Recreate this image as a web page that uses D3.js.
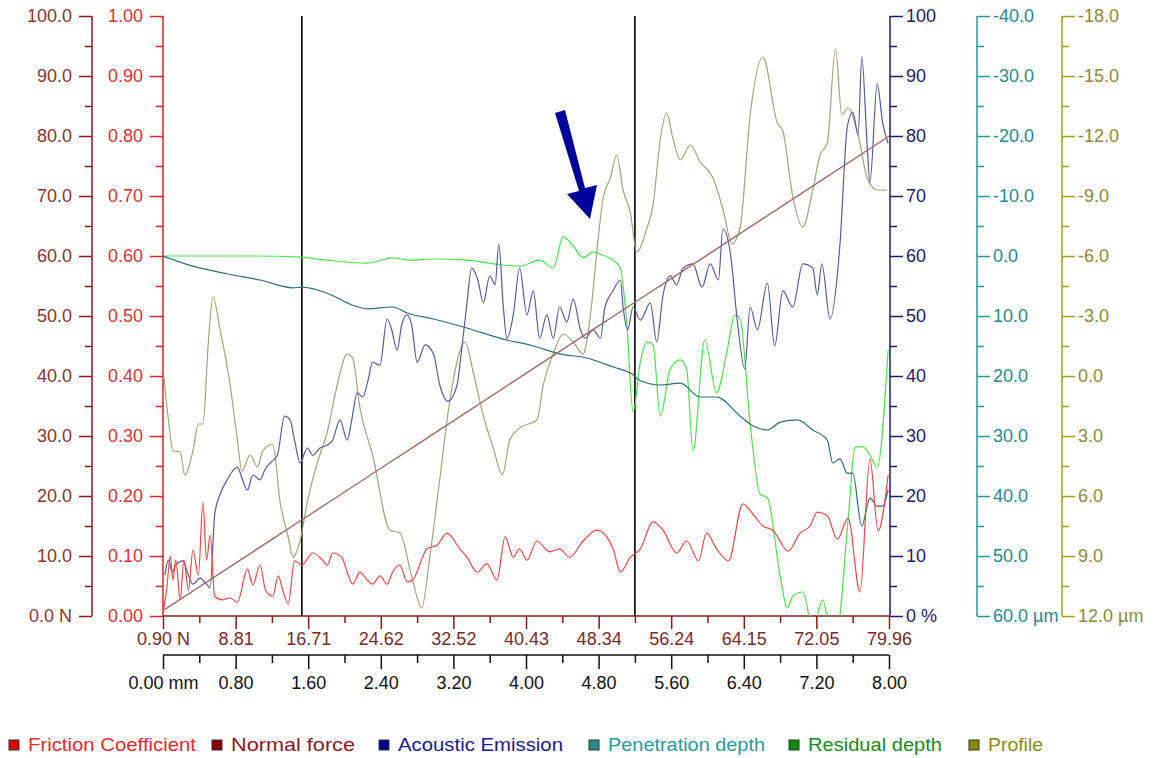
<!DOCTYPE html>
<html><head><meta charset="utf-8">
<script src="https://cdn.jsdelivr.net/npm/d3@7"></script>
<style>
body{margin:0;background:#fff;}
svg{display:block;font-family:"Liberation Sans",Arial,sans-serif;}
</style></head>
<body><svg id="c" width="1158" height="758"></svg>
<script>
// ---------- DATA (x in mm along the scratch) ----------
const mmTicks = [0,0.8,1.6,2.4,3.2,4.0,4.8,5.6,6.4,7.2,8.0];
const mmLabels = ["0.00 mm","0.80","1.60","2.40","3.20","4.00","4.80","5.60","6.40","7.20","8.00"];
const forceTicks = [0.90,8.81,16.71,24.62,32.52,40.43,48.34,56.24,64.15,72.05,79.96];
const forceLabels = ["0.90 N","8.81","16.71","24.62","32.52","40.43","48.34","56.24","64.15","72.05","79.96"];
const nTicks = [0,10,20,30,40,50,60,70,80,90,100];
const nLabels = ["0.0 N","10.0","20.0","30.0","40.0","50.0","60.0","70.0","80.0","90.0","100.0"];
const fTicks = [0,0.1,0.2,0.3,0.4,0.5,0.6,0.7,0.8,0.9,1.0];
const fLabels = ["0.00","0.10","0.20","0.30","0.40","0.50","0.60","0.70","0.80","0.90","1.00"];
const aeTicks = [0,10,20,30,40,50,60,70,80,90,100];
const aeLabels = ["0 %","10","20","30","40","50","60","70","80","90","100"];
const depthTicks = [-40,-30,-20,-10,0,10,20,30,40,50,60];
const depthLabels = ["-40.0","-30.0","-20.0","-10.0","0.0","10.0","20.0","30.0","40.0","50.0","60.0 µm"];
const profTicks = [-18,-15,-12,-9,-6,-3,0,3,6,9,12];
const profLabels = ["-18.0","-15.0","-12.0","-9.0","-6.0","-3.0","0.0","3.0","6.0","9.0","12.0 µm"];
const markerMM = [1.53, 5.20];
const legendNames = ["Friction Coefficient","Normal force","Acoustic Emission","Penetration depth","Residual depth","Profile"];

// Normal force (N) vs position (mm)
const normalForce = [[0,0.90],[0.8,8.81],[1.6,16.71],[2.4,24.62],[3.2,32.52],[4.0,40.43],[4.8,48.34],[5.6,56.24],[6.4,64.15],[7.2,72.05],[8.0,79.96]];

// Friction coefficient
const friction = [[0.00,0.005],[0.04,0.043],[0.08,0.10],[0.11,0.06],[0.14,0.093],[0.19,0.027],[0.23,0.093],[0.28,0.043],[0.33,0.11],[0.39,0.068],[0.44,0.19],[0.48,0.093],[0.52,0.135],[0.57,0.033],[0.65,0.027],[0.74,0.03],[0.82,0.023],[0.93,0.078],[0.99,0.052],[1.07,0.085],[1.13,0.043],[1.21,0.033],[1.27,0.067],[1.32,0.043],[1.38,0.02],[1.45,0.092],[1.53,0.085],[1.65,0.105],[1.76,0.093],[1.81,0.085],[1.87,0.105],[1.97,0.098],[2.03,0.073],[2.09,0.053],[2.17,0.073],[2.25,0.06],[2.31,0.053],[2.39,0.067],[2.47,0.053],[2.53,0.073],[2.61,0.085],[2.69,0.057],[2.75,0.06],[2.91,0.112],[3.02,0.118],[3.13,0.138],[3.27,0.112],[3.35,0.098],[3.46,0.073],[3.57,0.087],[3.68,0.06],[3.77,0.132],[3.86,0.098],[3.93,0.112],[4.01,0.093],[4.12,0.125],[4.26,0.107],[4.37,0.112],[4.48,0.098],[4.63,0.125],[4.78,0.143],[4.89,0.132],[4.96,0.112],[5.04,0.073],[5.15,0.098],[5.26,0.112],[5.40,0.157],[5.51,0.143],[5.66,0.105],[5.77,0.125],[5.90,0.092],[5.99,0.138],[6.10,0.112],[6.23,0.092],[6.39,0.187],[6.50,0.17],[6.61,0.15],[6.72,0.143],[6.89,0.108],[7.02,0.138],[7.13,0.15],[7.21,0.173],[7.32,0.167],[7.43,0.128],[7.55,0.163],[7.68,0.04],[7.79,0.262],[7.88,0.142],[7.99,0.235]];

// Acoustic emission (%)
const acoustic = [[0.02,6.8],[0.06,9.3],[0.10,7.3],[0.14,8.5],[0.22,9.2],[0.28,6.8],[0.33,5.3],[0.41,6.3],[0.48,5.3],[0.52,4.7],[0.57,17],[0.63,20.3],[0.71,22.8],[0.76,24],[0.82,24.8],[0.87,23],[0.93,21],[0.99,23.5],[1.07,22.7],[1.12,24.3],[1.18,25.5],[1.26,26.8],[1.34,33.3],[1.40,32.7],[1.45,29.3],[1.51,25.5],[1.59,28],[1.65,26.8],[1.73,28],[1.81,28.5],[1.87,29.3],[1.95,32.7],[2.03,29.3],[2.08,32.7],[2.14,37.2],[2.20,36.5],[2.26,39.3],[2.31,42.3],[2.39,41.8],[2.47,49.5],[2.52,47.7],[2.58,44.3],[2.63,48.5],[2.69,50.2],[2.74,48.5],[2.80,42.3],[2.89,45.2],[2.98,43.7],[3.05,38.5],[3.14,35.8],[3.24,38.5],[3.29,44.3],[3.35,52.2],[3.40,58],[3.47,56],[3.53,52.2],[3.60,56.7],[3.66,55.2],[3.70,62],[3.75,51.5],[3.79,46.3],[3.86,50.2],[3.93,58],[4.01,50.2],[4.08,54.2],[4.15,46.3],[4.23,50.2],[4.30,46.3],[4.37,51.5],[4.45,49],[4.52,52.8],[4.60,47.7],[4.65,46.3],[4.74,47.7],[4.82,46.3],[4.87,51.5],[4.96,54.2],[5.04,56],[5.07,51.5],[5.12,47.7],[5.18,51.5],[5.26,49.3],[5.37,52.2],[5.44,45.7],[5.51,53.5],[5.59,56.7],[5.66,55.2],[5.73,58],[5.84,58.7],[5.94,54.8],[6.03,58.7],[6.12,56],[6.17,64.5],[6.25,60.7],[6.33,49],[6.41,41.2],[6.47,51.5],[6.55,47.7],[6.66,55.5],[6.74,45],[6.83,54.2],[6.94,51.5],[7.05,58.7],[7.16,58],[7.21,53.5],[7.26,58.7],[7.35,49.5],[7.46,62],[7.54,81.5],[7.60,84],[7.66,80.2],[7.70,93.2],[7.76,78.2],[7.79,72.3],[7.87,88.7],[7.93,82.2],[7.99,78.8]];

// Penetration depth (µm)
const penetration = [[0,0],[0.33,1.7],[0.71,3.0],[1.07,4.0],[1.43,5.3],[1.53,5.2],[1.81,6.2],[2.09,8.2],[2.25,8.8],[2.53,8.5],[2.69,9.5],[2.98,10.5],[3.35,12],[3.71,13.7],[4.08,15],[4.37,16.3],[4.67,17],[4.96,18.5],[5.18,19.8],[5.26,20.8],[5.48,21.5],[5.70,21.2],[5.92,23.5],[6.10,23.5],[6.36,26.7],[6.50,28.3],[6.66,29],[6.80,27.7],[6.99,27.3],[7.16,29],[7.32,30.7],[7.38,34.5],[7.46,33.8],[7.54,36.2],[7.60,36.2],[7.70,45],[7.79,40.3],[7.87,41.7],[7.93,41.7],[7.99,39]];

// Residual depth (µm)
const residual = [[0,0],[0.96,0],[1.51,0.2],[1.81,0.7],[2.25,1.2],[2.53,0.3],[2.72,0.7],[2.98,0.5],[3.35,0.7],[3.64,1.3],[3.93,1.7],[4.15,0.7],[4.30,2],[4.41,-3.2],[4.52,-1.7],[4.63,0.3],[4.74,-0.7],[4.82,-0.3],[4.96,0.7],[5.04,2],[5.11,11.2],[5.18,26],[5.26,17.7],[5.33,14.3],[5.40,14.8],[5.48,26.7],[5.59,18.8],[5.70,17.3],[5.77,18.8],[5.84,32.5],[5.97,14],[6.10,22.8],[6.21,16.3],[6.30,9.8],[6.36,10.5],[6.47,28],[6.58,39.7],[6.66,40.3],[6.80,53.3],[6.88,58.7],[6.94,56.7],[7.05,56],[7.16,62],[7.27,57.3],[7.35,62],[7.43,62],[7.54,45.7],[7.63,31.8],[7.71,31.8],[7.79,33.2],[7.87,35.2],[7.99,15.7]];

// Profile (µm)
const profile = [[0.01,0.05],[0.06,2.2],[0.11,3.75],[0.19,3.8],[0.24,4.95],[0.33,3.75],[0.39,2.4],[0.44,2.4],[0.50,-1.7],[0.55,-3.95],[0.63,-2.3],[0.74,0.45],[0.82,3.2],[0.87,4.75],[0.96,3.95],[1.04,4.55],[1.10,3.75],[1.21,3.4],[1.29,6.3],[1.38,8.05],[1.43,9.05],[1.51,8.25],[1.59,6.3],[1.70,4.35],[1.81,2.8],[1.92,0.45],[2.03,-1.1],[2.09,-0.9],[2.17,1.6],[2.31,3.95],[2.50,7.7],[2.61,7.85],[2.75,10.2],[2.85,11.6],[2.94,9.05],[3.05,5.15],[3.16,1.25],[3.33,-1.7],[3.42,-0.15],[3.53,2.0],[3.64,3.6],[3.74,4.95],[3.82,3.2],[3.93,2.6],[4.12,2.2],[4.19,0.45],[4.30,-1.1],[4.41,-2.1],[4.52,-1.7],[4.63,-1.1],[4.71,-3.05],[4.78,-6.2],[4.85,-8.9],[4.93,-9.9],[5.00,-11.05],[5.07,-9.3],[5.15,-8.15],[5.22,-6.2],[5.33,-7.35],[5.40,-8.55],[5.48,-11.85],[5.55,-13.15],[5.62,-11.85],[5.70,-10.8],[5.81,-11.55],[5.92,-10.7],[6.06,-9.9],[6.17,-8.35],[6.27,-6.6],[6.36,-7.45],[6.47,-13.05],[6.61,-15.95],[6.77,-12.65],[6.83,-12.25],[6.94,-8.95],[7.05,-7.45],[7.16,-9.3],[7.24,-11.05],[7.32,-11.65],[7.41,-16.35],[7.48,-13.05],[7.55,-13.4],[7.66,-12.05],[7.76,-9.9],[7.87,-9.3],[7.98,-9.3]];

// ---------- DRAW ----------
const svg = d3.select("#c");
const L = 163, R = 889, T = 16, B = 616;
const x = d3.scaleLinear().domain([0,8]).range([L,R]);
const xN = d3.scaleLinear().domain([0.90,79.96]).range([L,R]);
const yN = d3.scaleLinear().domain([0,100]).range([B,T]);
const yF = d3.scaleLinear().domain([0,1]).range([B,T]);
const yAE = d3.scaleLinear().domain([0,100]).range([B,T]);
const yD = d3.scaleLinear().domain([-40,60]).range([T,B]);
const yP = d3.scaleLinear().domain([-18,12]).range([T,B]);

svg.append("defs").append("clipPath").attr("id","clip")
  .append("rect").attr("x",L).attr("y",T).attr("width",R-L).attr("height",B-T);

const FS = 18;
function mids(a){ const m=[]; for(let i=0;i<a.length-1;i++) m.push((a[i]+a[i+1])/2); return m; }

function vAxis(gen, scale, ticks, labels, xPos, lineColor, textColor, side){
  const g = svg.append("g").attr("transform",`translate(${xPos},0)`);
  g.append("g").call(gen(scale).tickValues(mids(ticks)).tickSize(7).tickFormat(""))
    .call(s=>{s.select(".domain").remove(); s.selectAll("line").attr("stroke",lineColor).attr("stroke-width",1.5);});
  const ax = g.append("g").call(gen(scale).tickValues(ticks).tickSize(13).tickPadding(side==="left"?7:3)
    .tickFormat((d,i)=>labels[i]));
  ax.select(".domain").attr("stroke",lineColor).attr("stroke-width",1.5).attr("d", `M0,${T}V${B}`);
  ax.selectAll("line").attr("stroke",lineColor).attr("stroke-width",1.5);
  ax.selectAll("text").attr("fill",textColor).style("font-size",FS+"px").style("font-family","Liberation Sans, Arial, sans-serif");
}
vAxis(d3.axisLeft, yN, nTicks, nLabels, 92, "#8b1a1a", "#8b3434", "left");
vAxis(d3.axisLeft, yF, fTicks, fLabels, L, "#cc2a2a", "#dd3333", "left");
vAxis(d3.axisRight, yAE, aeTicks, aeLabels, 890, "#1c1c6c", "#1c1c6c", "right");
vAxis(d3.axisRight, yD, depthTicks, depthLabels, 977, "#2a9595", "#2a8a8a", "right");
vAxis(d3.axisRight, yP, profTicks, profLabels, 1062, "#a0a025", "#8a8a3a", "right");

function hAxis(scale, ticks, labels, yPos, lineColor, textColor, majorLen, minorLen, pad){
  const g = svg.append("g").attr("transform",`translate(0,${yPos})`);
  g.append("g").call(d3.axisBottom(scale).tickValues(mids(ticks)).tickSize(minorLen).tickFormat(""))
    .call(s=>{s.select(".domain").remove(); s.selectAll("line").attr("stroke",lineColor).attr("stroke-width",1.5);});
  const ax = g.append("g").call(d3.axisBottom(scale).tickValues(ticks).tickSize(majorLen).tickPadding(pad).tickFormat((d,i)=>labels[i]));
  ax.select(".domain").attr("stroke",lineColor).attr("stroke-width",1.5).attr("d",`M${L},0H${R}`);
  ax.selectAll("line").attr("stroke",lineColor).attr("stroke-width",1.5);
  ax.selectAll("text").attr("fill",textColor).style("font-size",FS+"px").style("font-family","Liberation Sans, Arial, sans-serif");
}
hAxis(xN, forceTicks, forceLabels, B, "#8b1a1a", "#7a2a2a", 13, 7, 3);
hAxis(x, mmTicks, mmLabels, 655, "#111", "#111", 14, 8, 7);

// marker lines
svg.append("g").selectAll("line").data(markerMM).join("line")
  .attr("x1",d=>x(d)).attr("x2",d=>x(d)).attr("y1",T).attr("y2",B)
  .attr("stroke","#000").attr("stroke-width",1.6);

// series
const plot = svg.append("g").attr("clip-path","url(#clip)");
function drawLine(data, ys, color, w){
  plot.append("path").datum(data)
    .attr("d", d3.line().x(d=>x(d[0])).y(d=>ys(d[1])).curve(d3.curveMonotoneX))
    .attr("fill","none").attr("stroke",color).attr("stroke-width",w||1.2);
}
drawLine(profile, yP, "#a4a478");
drawLine(residual, yD, "#4fe04f");
drawLine(penetration, yD, "#2c6f78");
drawLine(acoustic, yAE, "#5a5aa2");
drawLine(normalForce, yN, "#a06a6a", 1.4);
drawLine(friction, yF, "#f04848");

// arrow annotation
svg.append("path")
  .attr("d","M555,113 L565,110 L585,188 L597,185 L590,219 L567,194 L579,191 Z")
  .attr("fill","#00009a");

// legend
const legendColors = ["#e00000","#8b0000","#00008b","#2a8a8a","#0a880a","#8a8a0a"];
const legendText = ["#e52a2a","#8b1a1a","#1a1a8b","#2a9a9a","#1a8a1a","#8a8a1a"];
const legendX = [9, 212, 379, 589, 789, 969];
const legendW = [168, 124, 165, 157, 134, 55];
const lg = svg.append("g");
legendNames.forEach((n,i)=>{
  lg.append("rect").attr("x",legendX[i]).attr("y",740).attr("width",10).attr("height",10)
    .attr("fill",legendColors[i]).attr("stroke","#333").attr("stroke-width",1);
  lg.append("text").attr("x",legendX[i]+19).attr("y",751).text(n)
    .attr("textLength",legendW[i]).attr("lengthAdjust","spacingAndGlyphs")
    .attr("fill",legendText[i]).style("font-size","19px");
});
</script></body></html>
